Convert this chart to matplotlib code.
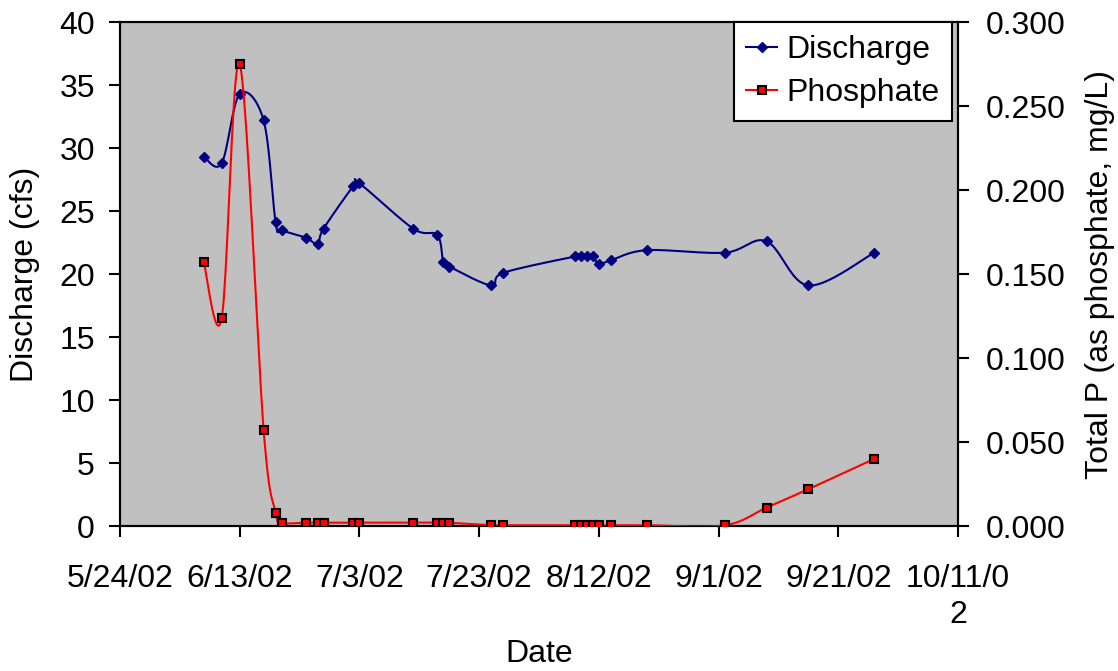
import matplotlib
matplotlib.use("Agg")
import matplotlib.pyplot as plt
import matplotlib.dates as mdates
from matplotlib.ticker import MultipleLocator, FormatStrFormatter
import numpy as np
from datetime import datetime

plt.rcParams['font.family'] = ['Liberation Sans', 'DejaVu Sans']

# Sampling dates (2002) for discharge and total P
q_dates = ["6/7", "6/10", "6/13", "6/17", "6/19", "6/20", "6/24", "6/26", "6/27",
           "7/2", "7/3", "7/12", "7/16", "7/17", "7/18", "7/25", "7/27",
           "8/8", "8/9", "8/10", "8/11", "8/12", "8/14", "8/20",
           "9/2", "9/9", "9/16", "9/27"]
discharge = [29.3, 28.8, 34.3, 32.2, 24.1, 23.5, 22.9, 22.4, 23.6,
             27.0, 27.2, 23.6, 23.1, 21.0, 20.6, 19.1, 20.1,
             21.4, 21.4, 21.4, 21.4, 20.8, 21.1, 21.9,
             21.7, 22.6, 19.1, 21.7]

p_dates = ["6/7", "6/10", "6/13", "6/17", "6/19", "6/20", "6/24", "6/26", "6/27",
           "7/2", "7/3", "7/12", "7/16", "7/17", "7/18", "7/25", "7/27",
           "8/8", "8/9", "8/10", "8/11", "8/12", "8/14", "8/20",
           "9/2", "9/9", "9/16", "9/27"]
phosphate = [0.157, 0.124, 0.275, 0.057, 0.008, 0.002, 0.002, 0.002, 0.002,
             0.002, 0.002, 0.002, 0.002, 0.002, 0.002, 0.0005, 0.0005,
             0.0005, 0.0005, 0.0005, 0.0005, 0.0005, 0.0005, 0.0005,
             0.0005, 0.011, 0.022, 0.040]

x_ticks = ["5/24/02", "6/13/02", "7/3/02", "7/23/02", "8/12/02", "9/1/02",
           "9/21/02", "10/11/02"]

FS = 23


def to_num(days):
    return np.array([mdates.date2num(datetime.strptime(d + "/2002", "%m/%d/%Y"))
                     for d in days])


def smooth(x, y, n=25):
    # Catmull-Rom style bezier, same idea as a spreadsheet "smoothed line"
    pts = np.column_stack([x, y]).astype(float)
    t = np.linspace(0, 1, n)[:, None]
    segs = []
    for i in range(len(pts) - 1):
        p0 = pts[i - 1] if i > 0 else pts[i]
        p1, p2 = pts[i], pts[i + 1]
        p3 = pts[i + 2] if i + 2 < len(pts) else pts[i + 1]
        c1 = p1 + (p2 - p0) / 6
        c2 = p2 - (p3 - p1) / 6
        seg = ((1 - t) ** 3 * p1 + 3 * (1 - t) ** 2 * t * c1
               + 3 * (1 - t) * t ** 2 * c2 + t ** 3 * p2)
        segs.append(seg if i == 0 else seg[1:])
    c = np.vstack(segs)
    return c[:, 0], c[:, 1]


qx = to_num(q_dates)
px = to_num(p_dates)
tick_x = np.array([mdates.date2num(datetime.strptime(d, "%m/%d/%y")) for d in x_ticks])

fig = plt.figure(figsize=(11.18, 6.71), dpi=100)
ax = fig.add_axes([0.1073, 0.216, 0.7497, 0.751])
ax.set_facecolor('#C0C0C0')
ax2 = ax.twinx()

sx, sy = smooth(qx, discharge)
ax.plot(sx, sy, color='#000080', lw=1.5, zorder=3)
ax.plot(qx, discharge, ls='none', marker='D', ms=5, color='#000080', zorder=4)

sx, sy = smooth(px, phosphate)
ax2.plot(sx, sy, color='#FF0000', lw=1.5, zorder=3)
ax2.plot(px, phosphate, ls='none', marker='s', ms=6, mfc='#FF0000',
         mec='black', mew=1.5, zorder=4)

ax.set_xlim(tick_x[0], tick_x[-1])
ax.set_ylim(0, 40)
ax2.set_ylim(0, 0.3)
ax.set_xticks(tick_x)
labels = [l for l in x_ticks[:-1]] + ["10/11/0\n2"]
ax.set_xticklabels(labels, linespacing=1.3)
ax.yaxis.set_major_locator(MultipleLocator(5))
ax2.yaxis.set_major_locator(MultipleLocator(0.05))
ax2.yaxis.set_major_formatter(FormatStrFormatter('%.3f'))

for a in (ax, ax2):
    a.tick_params(labelsize=FS, length=8, width=1.5, direction='out')
    for s in a.spines.values():
        s.set_linewidth(1.5)
ax.tick_params(axis='x', pad=19)
ax.tick_params(axis='y', pad=10)
ax2.tick_params(axis='y', pad=12)

ax.set_xlabel("Date", fontsize=FS, labelpad=6)
ax.set_ylabel("Discharge (cfs)", fontsize=FS, labelpad=14)
ax2.set_ylabel("Total P (as phosphate, mg/L)", fontsize=FS, labelpad=14)

h1 = plt.Line2D([], [], color='#000080', lw=1.5, marker='D', ms=5)
h2 = plt.Line2D([], [], color='#FF0000', lw=1.5, marker='s', ms=6,
                mfc='#FF0000', mec='black', mew=1.5)
leg = ax2.legend([h1, h2], ["Discharge", "Phosphate"], loc='upper right',
                 bbox_to_anchor=(0.993, 1.0), borderaxespad=0, fontsize=FS,
                 fancybox=False, framealpha=1, edgecolor='black',
                 handlelength=0.95, handletextpad=0.3, borderpad=0.4,
                 labelspacing=0.42)
leg.get_frame().set_linewidth(1.5)

fig.savefig("out.png", dpi=100)
